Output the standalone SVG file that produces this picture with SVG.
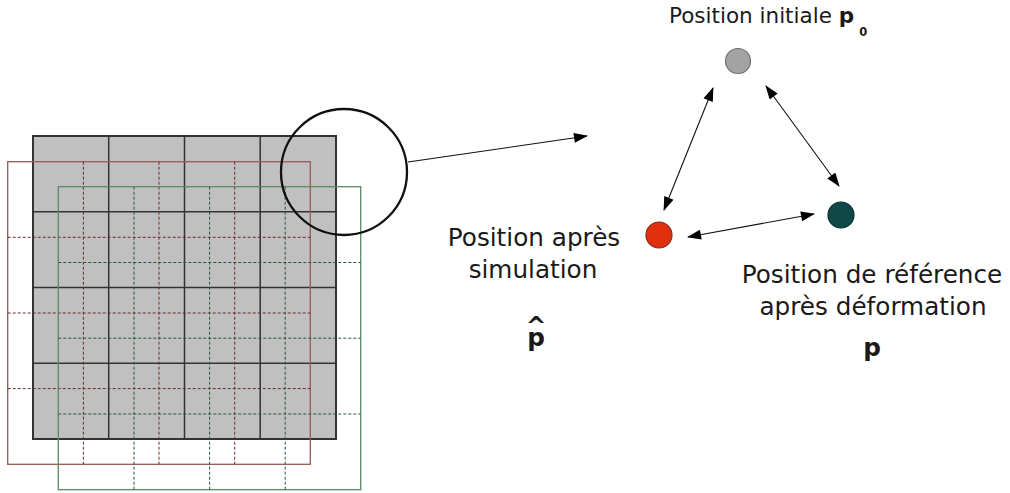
<svg xmlns="http://www.w3.org/2000/svg" width="1010" height="493" viewBox="0 0 1010 493">
<defs>
<style>
.lbl{font-family:"DejaVu Sans",sans-serif;font-size:24.7px;fill:#1a1a1a}
.top{font-size:21.5px}
.bold{font-weight:bold}
.glines{stroke:#333;stroke-width:1.5;fill:none}
.rout{stroke:#955a5a;stroke-width:1.3;fill:none}
.rdash{stroke:#6a2a2a;stroke-width:1;stroke-dasharray:3 2;fill:none}
.gout{stroke:#5a8a62;stroke-width:1.3;fill:none}
.gdash{stroke:#2c5532;stroke-width:1;stroke-dasharray:3 2;fill:none}
.conn{stroke:#111;stroke-width:1.1;fill:none}
</style>
<marker id="ah" viewBox="0 0 14 10" refX="13" refY="5" markerWidth="15" markerHeight="10" markerUnits="userSpaceOnUse" orient="auto-start-reverse">
<path d="M0,0 L14,5 L0,10 Z" fill="#000"/>
</marker>
</defs>
<rect width="1010" height="493" fill="#fff"/>

<g id="mesh-initial">
<rect x="33" y="136" width="303" height="303" fill="#c0c0c0" stroke="#333" stroke-width="2"/>
<path class="glines" d="M108.7,136V439M184.5,136V439M260.2,136V439M33,211.7H336M33,287.5H336M33,363.2H336"/>
</g>

<g id="mesh-simulation">
<rect class="rout" x="7.7" y="161.7" width="302.6" height="302.6"/>
<path class="rdash" d="M83.4,161.7V464.3M159,161.7V464.3M234.7,161.7V464.3M7.7,237.3H310.3M7.7,313H310.3M7.7,388.6H310.3"/>
</g>

<g id="mesh-reference">
<rect class="gout" x="58.3" y="186.7" width="302.4" height="303"/>
<path class="gdash" d="M134,186.7V489.7M209.6,186.7V489.7M285.2,186.7V489.7M58.3,262.5H360.7M58.3,338.2H360.7M58.3,414H360.7"/>
</g>

<g id="zoom-circle">
<circle cx="344" cy="172" r="63" fill="none" stroke="#111" stroke-width="2.3"/>
</g>

<g id="node-initial">
<circle cx="738" cy="61" r="12.5" fill="#a3a3a3" stroke="#6f6f6f" stroke-width="1.2"/>
<text class="lbl top" x="669" y="23">Position initiale <tspan class="bold">p</tspan><tspan class="bold" font-size="11.5" dx="5" dy="13">0</tspan></text>
</g>

<g id="node-simulation">
<circle cx="659" cy="235" r="13" fill="#e2300f" stroke="#8a2a1a" stroke-width="1.2"/>
<text class="lbl" x="534" y="246" text-anchor="middle">Position après</text>
<text class="lbl" x="533" y="278" text-anchor="middle">simulation</text>
<text class="lbl bold" x="536" y="333.5" font-size="50" text-anchor="middle">^</text>
<text class="lbl bold" x="536" y="346" text-anchor="middle">p</text>
</g>

<g id="node-reference">
<circle cx="841" cy="215" r="13" fill="#0f4848" stroke="#0a3030" stroke-width="1.2"/>
<text class="lbl" x="872" y="283" text-anchor="middle">Position de référence</text>
<text class="lbl" x="873" y="315" text-anchor="middle">après déformation</text>
<text class="lbl bold" x="872" y="356" text-anchor="middle">p</text>
</g>

<g id="connectors">
<line class="conn" x1="408" y1="162" x2="587" y2="136" marker-end="url(#ah)"/>
<line class="conn" x1="664" y1="210" x2="713" y2="88" marker-start="url(#ah)" marker-end="url(#ah)"/>
<line class="conn" x1="766" y1="86" x2="839" y2="186" marker-start="url(#ah)" marker-end="url(#ah)"/>
<line class="conn" x1="688" y1="237" x2="814" y2="214" marker-start="url(#ah)" marker-end="url(#ah)"/>
</g>
</svg>
